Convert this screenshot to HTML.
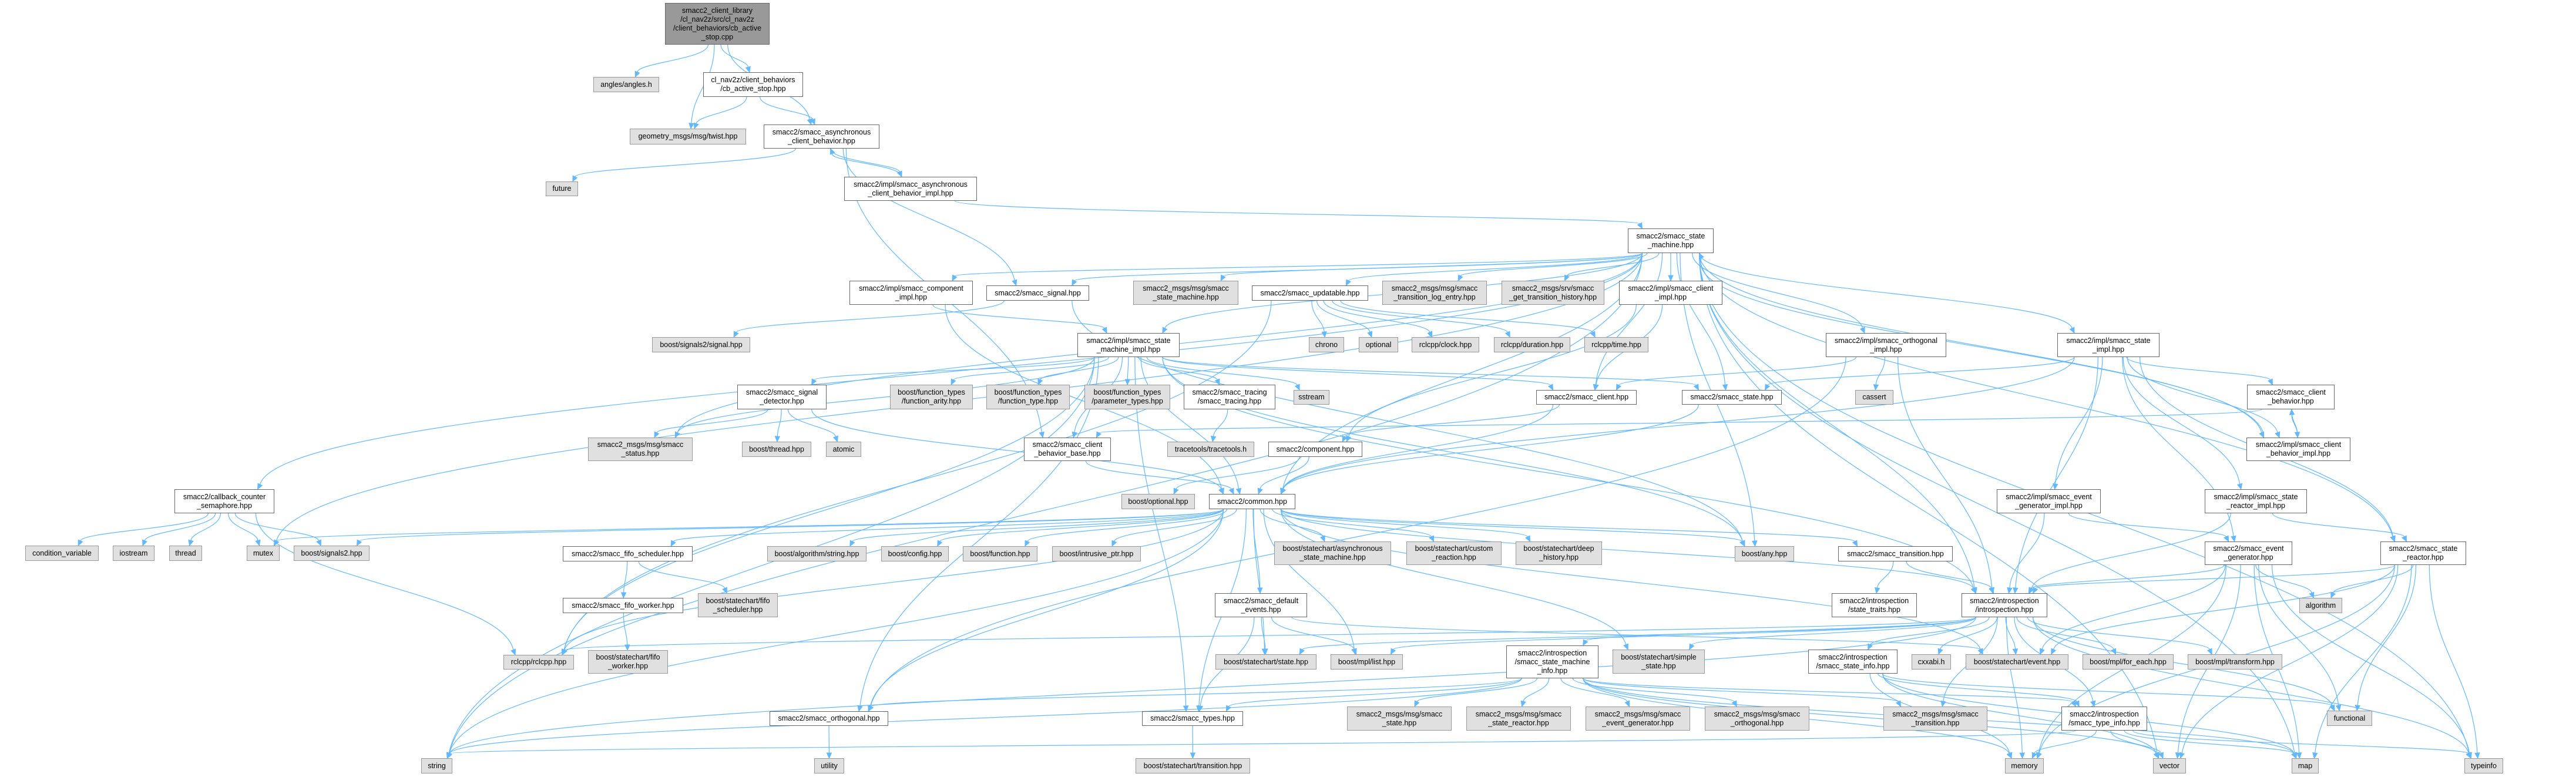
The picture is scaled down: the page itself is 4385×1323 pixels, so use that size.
<!DOCTYPE html>
<html><head><meta charset="utf-8">
<style>
html,body{margin:0;padding:0;background:#fff;}
#wrap{position:relative;width:4385px;height:1323px;overflow:hidden;background:#fff;}
svg{position:absolute;left:0;top:0;}
.n{position:absolute;box-sizing:border-box;border:1.5px solid #666;background:#fff;display:flex;align-items:center;justify-content:center;text-align:center;font:12.5px/15px "Liberation Sans",sans-serif;color:#000;white-space:nowrap;z-index:2;}
.g{background:#e0e0e0;border-color:#999;}
.r{background:#999;border-color:#666;}
</style></head><body><div id="wrap">
<svg id="edges" width="4385" height="1323"></svg>
<div class="n r" id="root" style="left:1132px;top:5px;width:178px;height:71px">smacc2_client_library<br>/cl_nav2z/src/cl_nav2z<br>/client_behaviors/cb_active<br>_stop.cpp</div>
<div class="n g" id="angles" style="left:1010px;top:131px;width:112px;height:26px">angles/angles.h</div>
<div class="n g" id="twist" style="left:1072px;top:219px;width:198px;height:27px">geometry_msgs/msg/twist.hpp</div>
<div class="n" id="cbh" style="left:1197px;top:123px;width:170px;height:42px">cl_nav2z/client_behaviors<br>/cb_active_stop.hpp</div>
<div class="n" id="acb" style="left:1300px;top:212px;width:197px;height:41px">smacc2/smacc_asynchronous<br>_client_behavior.hpp</div>
<div class="n g" id="future" style="left:929px;top:309px;width:55px;height:25px">future</div>
<div class="n" id="acbi" style="left:1437px;top:301px;width:226px;height:41px">smacc2/impl/smacc_asynchronous<br>_client_behavior_impl.hpp</div>
<div class="n" id="sm" style="left:2771px;top:389px;width:146px;height:42px">smacc2/smacc_state<br>_machine.hpp</div>
<div class="n" id="compi" style="left:1446px;top:478px;width:210px;height:41px">smacc2/impl/smacc_component<br>_impl.hpp</div>
<div class="n" id="signal" style="left:1679px;top:486px;width:175px;height:26px">smacc2/smacc_signal.hpp</div>
<div class="n g" id="msgsm" style="left:1929px;top:478px;width:179px;height:41px">smacc2_msgs/msg/smacc<br>_state_machine.hpp</div>
<div class="n" id="upd" style="left:2131px;top:486px;width:198px;height:26px">smacc2/smacc_updatable.hpp</div>
<div class="n g" id="tle" style="left:2353px;top:478px;width:178px;height:41px">smacc2_msgs/msg/smacc<br>_transition_log_entry.hpp</div>
<div class="n g" id="gth" style="left:2556px;top:478px;width:175px;height:41px">smacc2_msgs/srv/smacc<br>_get_transition_history.hpp</div>
<div class="n" id="cli" style="left:2756px;top:478px;width:176px;height:41px">smacc2/impl/smacc_client<br>_impl.hpp</div>
<div class="n g" id="sig2sig" style="left:1110px;top:574px;width:167px;height:26px">boost/signals2/signal.hpp</div>
<div class="n" id="smi" style="left:1834px;top:567px;width:174px;height:41px">smacc2/impl/smacc_state<br>_machine_impl.hpp</div>
<div class="n g" id="chrono" style="left:2228px;top:574px;width:60px;height:26px">chrono</div>
<div class="n g" id="optional" style="left:2313px;top:574px;width:67px;height:26px">optional</div>
<div class="n g" id="clock" style="left:2403px;top:574px;width:115px;height:26px">rclcpp/clock.hpp</div>
<div class="n g" id="duration" style="left:2543px;top:574px;width:130px;height:26px">rclcpp/duration.hpp</div>
<div class="n g" id="time" style="left:2697px;top:574px;width:109px;height:26px">rclcpp/time.hpp</div>
<div class="n" id="orthi" style="left:3108px;top:567px;width:205px;height:41px">smacc2/impl/smacc_orthogonal<br>_impl.hpp</div>
<div class="n" id="sti" style="left:3502px;top:567px;width:174px;height:41px">smacc2/impl/smacc_state<br>_impl.hpp</div>
<div class="n" id="sigdet" style="left:1255px;top:655px;width:152px;height:42px">smacc2/smacc_signal<br>_detector.hpp</div>
<div class="n g" id="farity" style="left:1515px;top:655px;width:141px;height:42px">boost/function_types<br>/function_arity.hpp</div>
<div class="n g" id="ftype" style="left:1679px;top:655px;width:142px;height:42px">boost/function_types<br>/function_type.hpp</div>
<div class="n g" id="ptypes" style="left:1846px;top:655px;width:146px;height:42px">boost/function_types<br>/parameter_types.hpp</div>
<div class="n" id="tracing" style="left:2015px;top:655px;width:156px;height:42px">smacc2/smacc_tracing<br>/smacc_tracing.hpp</div>
<div class="n g" id="sstream" style="left:2202px;top:664px;width:61px;height:25px">sstream</div>
<div class="n" id="client" style="left:2615px;top:664px;width:171px;height:25px">smacc2/smacc_client.hpp</div>
<div class="n" id="state" style="left:2863px;top:664px;width:170px;height:25px">smacc2/smacc_state.hpp</div>
<div class="n g" id="cassert" style="left:3158px;top:664px;width:65px;height:25px">cassert</div>
<div class="n" id="cb" style="left:3825px;top:655px;width:149px;height:42px">smacc2/smacc_client<br>_behavior.hpp</div>
<div class="n g" id="status" style="left:1001px;top:745px;width:178px;height:40px">smacc2_msgs/msg/smacc<br>_status.hpp</div>
<div class="n g" id="bthread" style="left:1263px;top:752px;width:118px;height:26px">boost/thread.hpp</div>
<div class="n g" id="atomic" style="left:1406px;top:752px;width:60px;height:26px">atomic</div>
<div class="n" id="cbb" style="left:1743px;top:745px;width:148px;height:40px">smacc2/smacc_client<br>_behavior_base.hpp</div>
<div class="n g" id="tracetools" style="left:1987px;top:752px;width:148px;height:26px">tracetools/tracetools.h</div>
<div class="n" id="component" style="left:2159px;top:752px;width:160px;height:26px">smacc2/component.hpp</div>
<div class="n" id="cbi" style="left:3824px;top:745px;width:177px;height:40px">smacc2/impl/smacc_client<br>_behavior_impl.hpp</div>
<div class="n" id="ccs" style="left:297px;top:833px;width:170px;height:41px">smacc2/callback_counter<br>_semaphore.hpp</div>
<div class="n" id="egi" style="left:3399px;top:833px;width:177px;height:41px">smacc2/impl/smacc_event<br>_generator_impl.hpp</div>
<div class="n" id="sri" style="left:3753px;top:833px;width:174px;height:41px">smacc2/impl/smacc_state<br>_reactor_impl.hpp</div>
<div class="n g" id="optionalhpp" style="left:1909px;top:841px;width:125px;height:26px">boost/optional.hpp</div>
<div class="n" id="common" style="left:2058px;top:841px;width:147px;height:26px">smacc2/common.hpp</div>
<div class="n g" id="condvar" style="left:43px;top:929px;width:125px;height:26px">condition_variable</div>
<div class="n g" id="iostream" style="left:192px;top:929px;width:71px;height:26px">iostream</div>
<div class="n g" id="thread" style="left:288px;top:929px;width:56px;height:26px">thread</div>
<div class="n g" id="mutex" style="left:420px;top:929px;width:56px;height:26px">mutex</div>
<div class="n g" id="signals2" style="left:500px;top:929px;width:129px;height:26px">boost/signals2.hpp</div>
<div class="n" id="fifosch" style="left:958px;top:930px;width:221px;height:26px">smacc2/smacc_fifo_scheduler.hpp</div>
<div class="n g" id="algstr" style="left:1306px;top:930px;width:169px;height:26px">boost/algorithm/string.hpp</div>
<div class="n g" id="config" style="left:1500px;top:930px;width:115px;height:26px">boost/config.hpp</div>
<div class="n g" id="bfunction" style="left:1639px;top:930px;width:127px;height:26px">boost/function.hpp</div>
<div class="n g" id="intr" style="left:1791px;top:930px;width:151px;height:26px">boost/intrusive_ptr.hpp</div>
<div class="n g" id="asm" style="left:2169px;top:922px;width:199px;height:40px">boost/statechart/asynchronous<br>_state_machine.hpp</div>
<div class="n g" id="cr" style="left:2394px;top:922px;width:162px;height:40px">boost/statechart/custom<br>_reaction.hpp</div>
<div class="n g" id="dh" style="left:2580px;top:922px;width:147px;height:40px">boost/statechart/deep<br>_history.hpp</div>
<div class="n g" id="any" style="left:2953px;top:930px;width:101px;height:26px">boost/any.hpp</div>
<div class="n" id="trans" style="left:3129px;top:930px;width:195px;height:26px">smacc2/smacc_transition.hpp</div>
<div class="n" id="eg" style="left:3753px;top:922px;width:149px;height:40px">smacc2/smacc_event<br>_generator.hpp</div>
<div class="n" id="sr" style="left:4052px;top:922px;width:146px;height:40px">smacc2/smacc_state<br>_reactor.hpp</div>
<div class="n" id="fifowkr" style="left:958px;top:1018px;width:205px;height:26px">smacc2/smacc_fifo_worker.hpp</div>
<div class="n g" id="bfifosch" style="left:1188px;top:1010px;width:136px;height:41px">boost/statechart/fifo<br>_scheduler.hpp</div>
<div class="n" id="de" style="left:2068px;top:1010px;width:157px;height:41px">smacc2/smacc_default<br>_events.hpp</div>
<div class="n" id="stt" style="left:3118px;top:1010px;width:145px;height:41px">smacc2/introspection<br>/state_traits.hpp</div>
<div class="n" id="intro" style="left:3339px;top:1010px;width:146px;height:41px">smacc2/introspection<br>/introspection.hpp</div>
<div class="n g" id="algorithm" style="left:3914px;top:1018px;width:73px;height:26px">algorithm</div>
<div class="n g" id="bfifow" style="left:1001px;top:1107px;width:136px;height:40px">boost/statechart/fifo<br>_worker.hpp</div>
<div class="n g" id="rclcpp" style="left:857px;top:1115px;width:120px;height:25px">rclcpp/rclcpp.hpp</div>
<div class="n g" id="bstate" style="left:2069px;top:1114px;width:172px;height:26px">boost/statechart/state.hpp</div>
<div class="n g" id="mpllist" style="left:2265px;top:1114px;width:123px;height:26px">boost/mpl/list.hpp</div>
<div class="n" id="smiinfo" style="left:2564px;top:1099px;width:157px;height:56px">smacc2/introspection<br>/smacc_state_machine<br>_info.hpp</div>
<div class="n g" id="simple" style="left:2745px;top:1106px;width:157px;height:41px">boost/statechart/simple<br>_state.hpp</div>
<div class="n" id="stinfo" style="left:3078px;top:1106px;width:152px;height:41px">smacc2/introspection<br>/smacc_state_info.hpp</div>
<div class="n g" id="cxxabi" style="left:3254px;top:1114px;width:67px;height:26px">cxxabi.h</div>
<div class="n g" id="event" style="left:3346px;top:1114px;width:175px;height:26px">boost/statechart/event.hpp</div>
<div class="n g" id="foreach" style="left:3545px;top:1114px;width:155px;height:26px">boost/mpl/for_each.hpp</div>
<div class="n g" id="transform" style="left:3724px;top:1114px;width:161px;height:26px">boost/mpl/transform.hpp</div>
<div class="n" id="orth" style="left:1310px;top:1211px;width:202px;height:25px">smacc2/smacc_orthogonal.hpp</div>
<div class="n" id="types" style="left:1944px;top:1211px;width:172px;height:25px">smacc2/smacc_types.hpp</div>
<div class="n g" id="mstate" style="left:2293px;top:1203px;width:178px;height:41px">smacc2_msgs/msg/smacc<br>_state.hpp</div>
<div class="n g" id="msr" style="left:2496px;top:1203px;width:178px;height:41px">smacc2_msgs/msg/smacc<br>_state_reactor.hpp</div>
<div class="n g" id="meg" style="left:2699px;top:1203px;width:178px;height:41px">smacc2_msgs/msg/smacc<br>_event_generator.hpp</div>
<div class="n g" id="morth" style="left:2902px;top:1203px;width:178px;height:41px">smacc2_msgs/msg/smacc<br>_orthogonal.hpp</div>
<div class="n g" id="mtrans" style="left:3206px;top:1203px;width:177px;height:41px">smacc2_msgs/msg/smacc<br>_transition.hpp</div>
<div class="n" id="tinfo" style="left:3509px;top:1203px;width:146px;height:41px">smacc2/introspection<br>/smacc_type_info.hpp</div>
<div class="n g" id="functional" style="left:3961px;top:1210px;width:77px;height:26px">functional</div>
<div class="n g" id="string" style="left:717px;top:1291px;width:53px;height:26px">string</div>
<div class="n g" id="utility" style="left:1386px;top:1291px;width:51px;height:26px">utility</div>
<div class="n g" id="transition" style="left:1933px;top:1291px;width:195px;height:26px">boost/statechart/transition.hpp</div>
<div class="n g" id="memory" style="left:3413px;top:1291px;width:66px;height:26px">memory</div>
<div class="n g" id="vector" style="left:3665px;top:1291px;width:56px;height:26px">vector</div>
<div class="n g" id="map" style="left:3901px;top:1291px;width:46px;height:26px">map</div>
<div class="n g" id="typeinfo" style="left:4195px;top:1291px;width:66px;height:26px">typeinfo</div>
</div>
<script>
var E={
root:"angles twist cbh acb",
cbh:"twist acb",
acb:"future acbi signal cbb",
acbi:"acb sm",
sm:"compi signal msgsm upd tle gth cli orthi sti smi ccs mutex status sr cbi any map vector typeinfo common intro state client string",
compi:"smi common",
signal:"sig2sig any",
upd:"chrono optional clock duration time rclcpp",
cli:"client component",
orthi:"cassert client intro orth",
sti:"cb cbi egi sri sr intro state eg common",
smi:"sigdet farity ftype ptypes tracing sstream client state string rclcpp orth status common cbb any intro types",
sigdet:"status bthread atomic common",
tracing:"tracetools",
cbb:"common",
component:"common optionalhpp",
client:"common component",
state:"common",
cb:"cbb cbi",
cbi:"cb sm",
ccs:"condvar iostream thread mutex signals2 rclcpp",
egi:"eg intro",
sri:"sr intro",
common:"algstr config bfunction intr fifosch asm cr dh any trans de bstate mpllist simple types orth rclcpp signals2 mutex intro string event",
fifosch:"fifowkr bfifosch",
fifowkr:"bfifow",
de:"bstate types event mpllist",
trans:"stt intro",
intro:"cxxabi event foreach transform smiinfo stinfo tinfo bstate simple mpllist rclcpp typeinfo functional mtrans string memory",
smiinfo:"mstate msr meg morth types orth string memory vector map tinfo mtrans",
stinfo:"tinfo memory vector map functional",
tinfo:"memory vector map typeinfo string",
types:"transition",
orth:"utility",
eg:"intro algorithm functional memory vector map event typeinfo",
sr:"intro algorithm functional memory vector map typeinfo event"
};
function R(id){var e=document.getElementById(id);return {x:e.offsetLeft,y:e.offsetTop,w:e.offsetWidth,h:e.offsetHeight};}
var svg=document.getElementById('edges'),ns="http://www.w3.org/2000/svg",out="";
var C="#63b8ff";
for(var s in E){var a=R(s);E[s].split(" ").forEach(function(t){var b=R(t);
 var acx=a.x+a.w/2,bcx=b.x+b.w/2;
 var sx=acx+Math.max(-a.w/3,Math.min(a.w/3,(bcx-acx)*0.1));
 var tx=bcx+Math.max(-b.w/3,Math.min(b.w/3,(acx-bcx)*0.1));
 var sy,ty,dir;
 if(b.y>=a.y+a.h-2){sy=a.y+a.h;ty=b.y;dir=1;}
 else if(b.y+b.h<=a.y+2){sy=a.y;ty=b.y+b.h;dir=-1;}
 else{ // same row: side to side
   if(bcx>acx){sx=a.x+a.w;tx=b.x;}else{sx=a.x;tx=b.x+b.w;}
   sy=a.y+a.h/2;ty=b.y+b.h/2;
   var ex=tx-(tx>sx?9:-9);
   out+='<path d="M'+sx+' '+sy+' C'+(sx+(tx-sx)*0.4)+' '+(sy+40)+' '+(sx+(tx-sx)*0.6)+' '+(ty+40)+' '+ex+' '+ty+'" fill="none" stroke="'+C+'" stroke-width="1.2"/>';
   var d=tx>sx?1:-1;
   out+='<polygon points="'+tx+','+ty+' '+(tx-9*d)+','+(ty-4)+' '+(tx-9*d)+','+(ty+4)+'" fill="'+C+'" stroke="'+C+'"/>';
   return;}
 var dy=ty-sy;var c1y=sy+dy*0.45,c2y=ty-dy*0.45;
 // arrow direction from control point 2 to end
 var vx=0,vy=ty-c2y;var L=Math.sqrt(vx*vx+vy*vy)||1;
 // use chord direction near end for slant
 var ux=(tx-sx),uy=(ty-sy);var ul=Math.sqrt(ux*ux+uy*uy)||1;
 var wx=0.35*ux/ul,wy=vy/L*0.65+0.35*uy/ul;var wl=Math.sqrt(wx*wx+wy*wy)||1;wx/=wl;wy/=wl;
 var ex=tx-wx*9,ey=ty-wy*9;
 out+='<path d="M'+sx+' '+sy+' C'+sx+' '+c1y+' '+(tx-wx*dy*0.3)+' '+c2y+' '+ex+' '+ey+'" fill="none" stroke="'+C+'" stroke-width="1.2"/>';
 var px=-wy,py=wx;
 out+='<polygon points="'+tx+','+ty+' '+(ex+px*4)+','+(ey+py*4)+' '+(ex-px*4)+','+(ey-py*4)+'" fill="'+C+'" stroke="'+C+'"/>';
});}
svg.innerHTML=out;
</script>
</body></html>
